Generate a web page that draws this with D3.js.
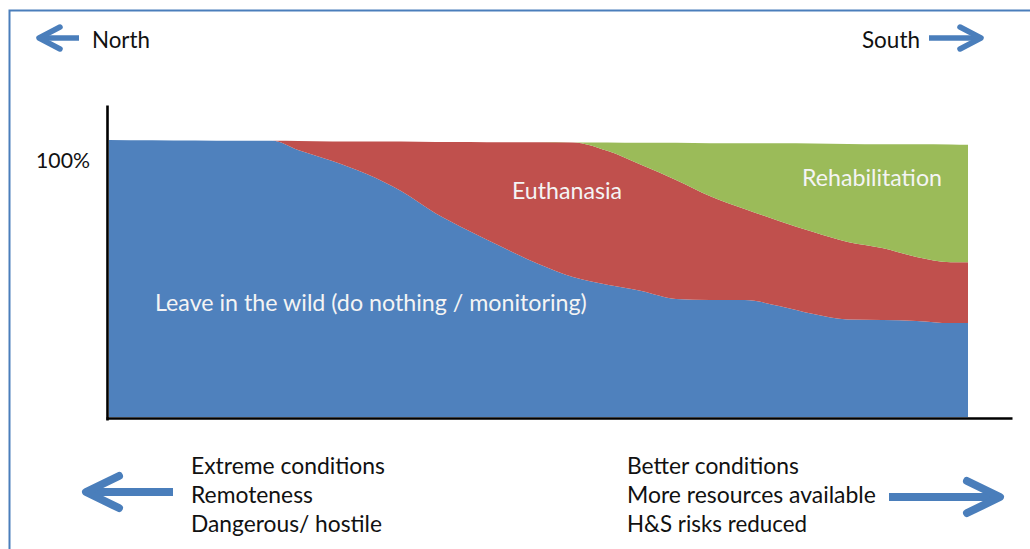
<!DOCTYPE html>
<html><head><meta charset="utf-8">
<script src="https://cdn.jsdelivr.net/npm/d3@7"></script>
<style>body{margin:0;background:#fff}svg{display:block}text{font-family:Lato,"Open Sans",sans-serif}</style>
</head><body><svg id="c" width="1030" height="549"></svg>
<script>
// ---- data ----
const positions = [0,5,10,15,19,22,26,30,34,38,42,46,50,54,58,62,66,70,74,78,82,86,90,94,98,100];
const leaveWild = [100.0,99.9,99.8,99.7,99.7,96.4,92.4,87.7,81.6,73.6,67.1,61.0,55.2,50.5,47.7,45.5,42.6,42.2,42.2,40.1,37.2,35.2,35.0,34.7,33.9,33.9];
const euthanasia = [0,0,0,0,0,3.2,7.1,11.8,17.9,25.7,32.2,38.2,44.0,48.6,48.4,45.5,43.0,37.5,32.9,30.7,29.6,28.0,26.0,23.1,22.0,22.0];
const rehabilitation = [0,0,0,0,0,0,0,0,0,0,0,0,0,0,3.0,8.0,13.4,19.1,23.7,28.0,31.9,35.4,37.5,40.7,42.5,42.4];
const seriesKeys = ["leave","euth","rehab"];
const seriesLabels = ["Leave in the wild (do nothing / monitoring)","Euthanasia","Rehabilitation"];
const yTicks = [100];
const directions = ["North","South"];
const northNotes = ["Extreme conditions","Remoteness","Dangerous/ hostile"];
const southNotes = ["Better conditions","More resources available","H&S risks reduced"];

// ---- layout ----
const svg = d3.select("#c");
const colors = {leave:"#4f81bd", euth:"#c0504d", rehab:"#9bbb59"};
const arrowColor = "#4a7ebb";
const x = d3.scaleLinear().domain([0,100]).range([109,968]);
const y = d3.scaleLinear().domain([0,100]).range([417,140]);

svg.append("rect").attr("width",1030).attr("height",549).attr("fill","#fff");
// frame
svg.append("path").attr("d","M9.5,549 L9.5,10.5 L1030,10.5").attr("fill","none")
  .attr("stroke",arrowColor).attr("stroke-width",2);

const table = positions.map((p,i)=>({pos:p, leave:leaveWild[i], euth:euthanasia[i], rehab:rehabilitation[i]}));
const stack = d3.stack().keys(seriesKeys)(table);
const area = d3.area().x(d=>x(d.data.pos)).y0(d=>y(d[0])).y1(d=>y(d[1])).curve(d3.curveMonotoneX);
svg.append("g").selectAll("path").data(stack).join("path")
  .attr("d",area).attr("fill",d=>colors[d.key]).attr("stroke","none");

// axes
const yAxisScale = y.copy().domain([y.invert(420), y.invert(105)]).range([420,105]);
const yAx = svg.append("g").attr("transform","translate(107,0)")
  .call(d3.axisLeft(yAxisScale).tickValues(yTicks).tickFormat(d=>d+"%").tickSize(0).tickPadding(17));
yAx.select(".domain").attr("stroke","#000").attr("stroke-width",2.6);
const xAxisScale = x.copy().domain([x.invert(106), x.invert(1012)]).range([106,1012]);
const xAx = svg.append("g").attr("transform","translate(0,418)")
  .call(d3.axisBottom(xAxisScale).tickValues([]).tickSize(0).tickSizeOuter(0));
xAx.select(".domain").attr("stroke","#000").attr("stroke-width",2.6);

function fit(t, w){
  const L = t.node().getComputedTextLength();
  const fs = parseFloat(t.attr("font-size"));
  t.attr("font-size", (fs*w/L).toFixed(2));
  return t;
}
const yt = yAx.selectAll(".tick text").attr("font-family","Lato, 'Open Sans', sans-serif")
  .attr("font-size",20).attr("fill","#111").attr("dy",null).attr("y",27).attr("dominant-baseline","auto");
yt.each(function(){ fit(d3.select(this),54); });

function label(txt,xx,yy,w,fill){
  const t = svg.append("text").attr("x",xx).attr("y",yy).attr("font-size",20).attr("fill",fill).text(txt);
  fit(t,w); return t;
}
// direction labels
label(directions[0],92,48,58,"#111");
label(directions[1],862,48,58,"#111");
// series labels
label(seriesLabels[0],155,311,432,"#f4f4f4");
label(seriesLabels[1],512,199,110,"#f4f4f4");
label(seriesLabels[2],802,186,140,"#f4f4f4");
// notes
const nW=[194,122,191], sW=[172,249,180], base=[474,503,532];
northNotes.forEach((s,i)=>label(s,191,base[i],nW[i],"#111"));
southNotes.forEach((s,i)=>label(s,627,base[i],sW[i],"#111"));

// arrows
function arrow(x0,x1,cy,armDx,armDy,sw){
  const dir = Math.sign(x1-x0);
  const g = svg.append("g").attr("fill","none").attr("stroke",arrowColor).attr("stroke-width",sw)
    .attr("stroke-linejoin","round");
  g.append("path").attr("d",`M${x0},${cy} L${x1-dir*2},${cy}`).attr("stroke-linecap","butt");
  g.append("path").attr("d",`M${x1-dir*armDx},${cy-armDy} L${x1},${cy} L${x1-dir*armDx},${cy+armDy}`).attr("stroke-linecap","round");
}
arrow(79,39,38,21,11,5.5);
arrow(929,981,38,21,11,5.5);
arrow(173,86,492,33,16,8);
arrow(889,1000,497,33,16,8);
</script></body></html>
